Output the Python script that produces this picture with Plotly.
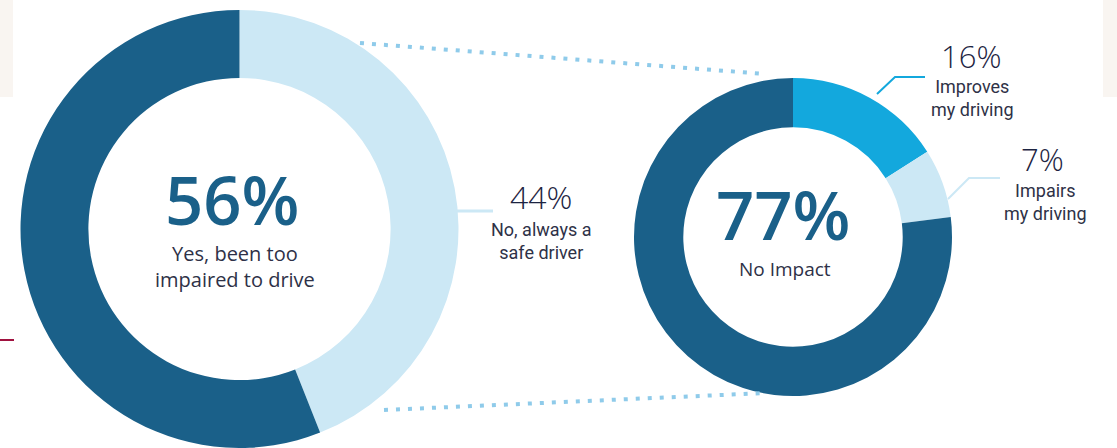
import plotly.graph_objects as go

W, H = 1117, 448

# ---- data ----
left_labels = ["No, always a safe driver", "Yes, been too impaired to drive"]
left_label_lines = ["No, always a<br>safe driver", "Yes, been too<br>impaired to drive"]
left_values = [44, 56]

right_labels = ["Improves my driving", "Impairs my driving", "No Impact"]
right_label_lines = ["Improves<br>my driving", "Impairs<br>my driving", "No Impact"]
right_values = [16, 7, 77]

DARK = "#1a6089"
LIGHT = "#cce8f5"
BRIGHT = "#13a8dd"
DOT = "#8fcbea"
TXT = "#2e3147"
NUM = "#1d2442"


def px(x):
    return x / W


def py(y):
    return 1 - y / H


fig = go.Figure()

# left donut
lcx, lcy, lr = 239.5, 229, 219
fig.add_trace(go.Pie(
    labels=left_labels, values=left_values, sort=False, direction="clockwise",
    rotation=0, hole=0.69, textinfo="none",
    marker=dict(colors=[LIGHT, DARK], line=dict(width=0)),
    domain=dict(x=[px(lcx - lr), px(lcx + lr)], y=[max(0, py(lcy + lr)), py(lcy - lr)]),
    showlegend=False, hoverinfo="label+percent",
))

# right donut
rcx, rcy, rr = 793, 237, 159
fig.add_trace(go.Pie(
    labels=right_labels, values=right_values, sort=False, direction="clockwise",
    rotation=0, hole=0.69, textinfo="none",
    marker=dict(colors=[BRIGHT, LIGHT, DARK], line=dict(width=0)),
    domain=dict(x=[px(rcx - rr), px(rcx + rr)], y=[py(rcy + rr), py(rcy - rr)]),
    showlegend=False, hoverinfo="label+percent",
))

shapes = []
# beige background blocks
shapes.append(dict(type="rect", xref="paper", yref="paper", x0=px(0), x1=px(13), y0=py(97), y1=py(0),
                   fillcolor="#f9f5f1", line=dict(width=0), layer="below"))
shapes.append(dict(type="rect", xref="paper", yref="paper", x0=px(1103), x1=px(1117), y0=py(97), y1=py(0),
                   fillcolor="#f9f5f1", line=dict(width=0), layer="below"))
# red rule at left
shapes.append(dict(type="line", xref="paper", yref="paper", x0=px(0), x1=px(14), y0=py(340), y1=py(340),
                   line=dict(color="#a0123f", width=2)))
# dotted connectors
shapes.append(dict(type="line", xref="paper", yref="paper", x0=px(360), y0=py(43), x1=px(766), y1=py(74),
                   line=dict(color=DOT, width=4, dash="4px,8px")))
shapes.append(dict(type="line", xref="paper", yref="paper", x0=px(384), y0=py(410), x1=px(766), y1=py(393),
                   line=dict(color=DOT, width=4, dash="4px,8px")))
# leader lines
shapes.append(dict(type="line", xref="paper", yref="paper", x0=px(455), y0=py(211), x1=px(493), y1=py(211),
                   line=dict(color=LIGHT, width=3)))
shapes.append(dict(type="path", xref="paper", yref="paper",
                   path=f"M {px(877)},{py(94)} L {px(895)},{py(77)} L {px(925)},{py(77)}",
                   line=dict(color=BRIGHT, width=2)))
shapes.append(dict(type="path", xref="paper", yref="paper",
                   path=f"M {px(948)},{py(199)} L {px(969)},{py(178)} L {px(1000)},{py(178)}",
                   line=dict(color=LIGHT, width=2)))

ann = []


def add_text(x, y, text, size, color, weight=400, family="Open Sans"):
    ann.append(dict(x=px(x), y=py(y), xref="paper", yref="paper", text=text, showarrow=False,
                    xanchor="center", yanchor="middle",
                    font=dict(size=size, color=color, family=family, weight=weight), align="center"))


# centre labels
add_text(232, 199, f"{left_values[1]}%", 67, DARK, 600)
add_text(235, 266, left_label_lines[1], 20, TXT)
add_text(783, 214, f"{right_values[2]}%", 67, DARK, 600)
add_text(785, 269, right_label_lines[2], 19, TXT)
# callouts
add_text(541, 197, f"{left_values[0]}%", 32, NUM, 300)
add_text(541, 241, left_label_lines[0], 18, TXT, 400, "Roboto")
add_text(971, 56, f"{right_values[0]}%", 31, NUM, 300)
add_text(972, 98, right_label_lines[0], 18, TXT, 400, "Roboto")
add_text(1042, 159, f"{right_values[1]}%", 31, NUM, 300)
add_text(1045, 202, right_label_lines[1], 18, TXT, 400, "Roboto")

fig.update_layout(
    width=W, height=H, margin=dict(l=0, r=0, t=0, b=0),
    paper_bgcolor="white", plot_bgcolor="white",
    shapes=shapes, annotations=ann, showlegend=False,
)

fig.write_html(
    "out.html",
    config={"displayModeBar": False},
    post_script="document.body.style.margin='0px';document.body.style.overflow='hidden';"
                "document.documentElement.style.overflow='hidden';",
)
